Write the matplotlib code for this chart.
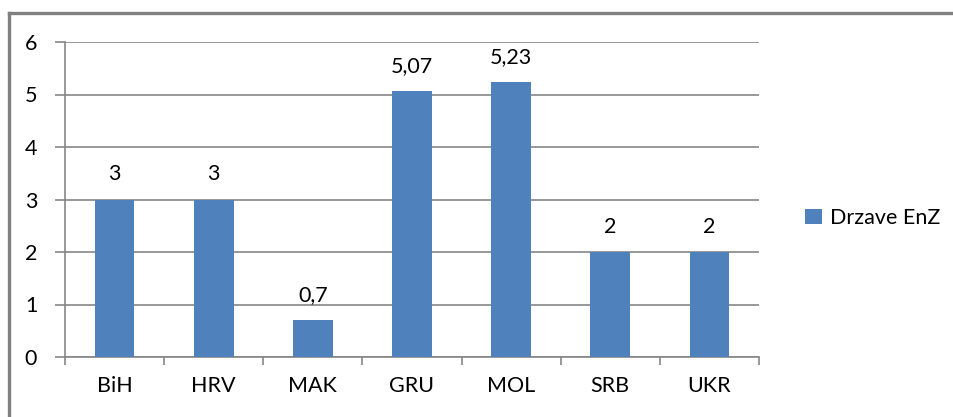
import matplotlib
matplotlib.use("Agg")
from matplotlib import pyplot as plt
import numpy as np

# Bar chart: Drzave EnZ

countries = ["BiH", "HRV", "MAK", "GRU", "MOL", "SRB", "UKR"]
values = [3, 3, 0.7, 5.07, 5.23, 2, 2]
value_labels = ["3", "3", "0,7", "5,07", "5,23", "2", "2"]
series_name = "Drzave EnZ"

bar_color = "#4F81BD"
grid_color = "#868686"
fs = 15.5

plt.rcParams['font.family'] = ['Lato', 'DejaVu Sans']

fig = plt.figure(figsize=(9.54, 4.17), dpi=100)
ax = fig.add_axes([65 / 954, 60 / 417, 694 / 954, 315 / 417])

x = np.arange(len(countries))
bars = ax.bar(x, values, width=0.4, color=bar_color, zorder=3, label=series_name)

ax.set_xlim(-0.5, len(countries) - 0.5)
ax.set_ylim(0, 6)
ax.set_yticks(range(7))
ax.set_yticklabels([str(i) for i in range(7)])
ax.yaxis.grid(True, color=grid_color, linewidth=1.2, zorder=0)

# category separators as ticks under the axis
ax.set_xticks(np.arange(-0.5, len(countries)), minor=False)
ax.set_xticklabels([])
ax.set_xticks(x, minor=True)
ax.set_xticklabels(countries, minor=True)
ax.tick_params(axis='x', which='major', length=6, width=1.2, color=grid_color, direction='out')
ax.tick_params(axis='x', which='minor', length=0, pad=14, labelsize=fs)
ax.tick_params(axis='y', length=7, width=1.2, color=grid_color, pad=13, labelsize=fs)

for s in ['top', 'right']:
    ax.spines[s].set_visible(False)
for s in ['left', 'bottom']:
    ax.spines[s].set_color(grid_color)
    ax.spines[s].set_linewidth(1.2)

for b, lab in zip(bars, value_labels):
    ax.annotate(lab, (b.get_x() + b.get_width() / 2, b.get_height()),
                xytext=(0, 18), textcoords='offset points',
                ha='center', va='center', fontsize=fs)

# legend
fig.legend(handles=[bars], labels=[series_name], loc='center left',
           bbox_to_anchor=(786 / 954, 1 - 218 / 417), frameon=False,
           fontsize=fs, handlelength=0.75, handleheight=0.75, handletextpad=0.4)

# outer chart frame (top and left edge visible)
fig.add_artist(plt.Line2D([9 / 954, 9 / 954], [0, 1 - 13 / 417],
                          transform=fig.transFigure, color="#808080", linewidth=2.4))
fig.add_artist(plt.Line2D([9 / 954, 1], [1 - 13 / 417, 1 - 13 / 417],
                          transform=fig.transFigure, color="#808080", linewidth=2.4))

fig.savefig("out.png", dpi=100)
